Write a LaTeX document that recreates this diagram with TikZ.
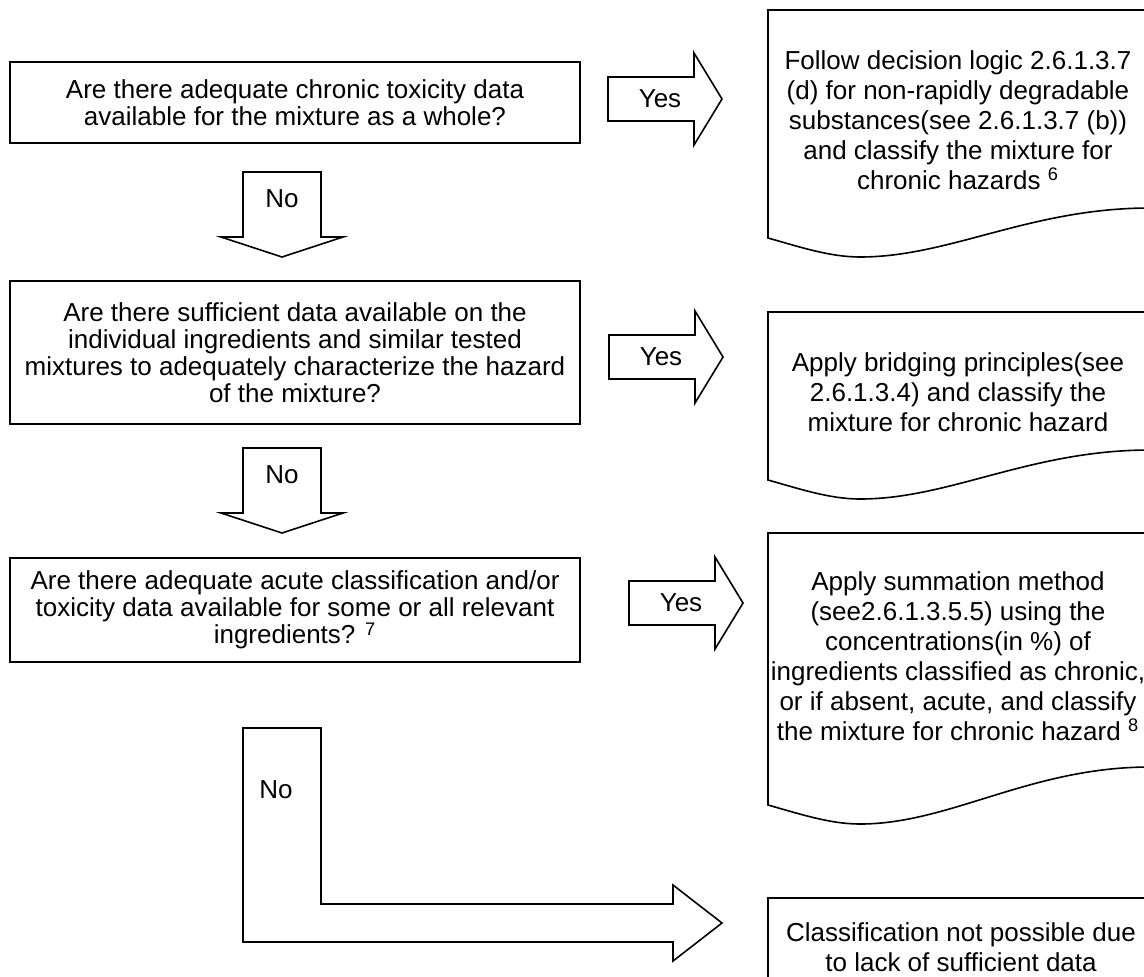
\documentclass[tikz,border=0pt]{standalone}
\usepackage{fontspec}
\setmainfont{Liberation Sans}
\usetikzlibrary{positioning}
\tikzset{
    question/.style={draw, line width=0.8pt, minimum width=285pt, inner sep=0pt,
                     align=center, font=\fontsize{13}{13.5}\selectfont},
    result/.style={inner sep=0pt, align=center, font=\fontsize{13}{15}\selectfont},
    shapeline/.style={draw, line width=0.8pt, fill=white},
    arrowtext/.style={inner sep=0pt, font=\fontsize{13}{15}\selectfont}
}

\begin{document}
\begin{tikzpicture}[x=0.5pt, y=-0.5pt]
    \useasboundingbox (0,0) rectangle (1144,976);
    \clip (0,0) rectangle (1144,976);

    % Questions
    \node[question, minimum height=40.5pt] (q1) at (295,102.5)
        {Are there adequate chronic toxicity data\\available for the mixture as a whole?};
    \node[question, minimum height=71.5pt] (q2) at (295,352.5)
        {Are there sufficient data available on the\\individual ingredients and similar tested\\mixtures to adequately characterize the hazard\\of the mixture?};
    \node[question, minimum height=52pt] (q3) at (295,610)
        {Are there adequate acute classification and/or\\toxicity data available for some or all relevant\\ingredients? \textsuperscript{7}};

    % Result documents (wavy bottom)
    \foreach \top/\low/\rise in {10/238/30, 312/480/30, 533/805/38}
        \draw[shapeline] (768,\top) -- (1150,\top) -- (1150,\low-\rise)
            .. controls (1030,\low-\rise) and (950,\low+19) .. (860,\low+19)
            .. controls (830,\low+19) and (800,\low+9) .. (768,\low) -- cycle;
    \draw[shapeline] (768,898) rectangle (1150,1000);

    \node[result] (r1) at (958,120)
        {Follow decision logic 2.6.1.3.7\\(d) for non-rapidly degradable\\substances(see 2.6.1.3.7 (b))\\and classify the mixture for\\chronic hazards \textsuperscript{6}};
    \node[result] (r2) at (958,392)
        {Apply bridging principles(see\\2.6.1.3.4) and classify the\\mixture for chronic hazard};
    \node[result] (r3) at (958,656)
        {Apply summation method\\(see2.6.1.3.5.5) using the\\concentrations(in \%) of\\ingredients classified as chronic,\\or if absent, acute, and classify\\the mixture for chronic hazard \textsuperscript{8}};
    \node[result] (r4) at (961,947)
        {Classification not possible due\\to lack of sufficient data};

    % Yes arrows
    \foreach \name/\x/\y in {yes1/608/99, yes2/609/357, yes3/629/603} {
        \draw[shapeline] (\x,\y) ++(0,-22) -- ++(86,0) -- ++(0,-24) -- ++(28,46)
            -- ++(-28,46) -- ++(0,-24) -- ++(-86,0) -- cycle;
        \node[arrowtext] (\name) at (\x+52,\y) {Yes};
    }

    % No arrows
    \foreach \name/\x/\y in {no1/282/172, no2/282/448} {
        \draw[shapeline] (\x,\y) ++(-39,0) -- ++(78,0) -- ++(0,65) -- ++(22,0)
            -- ++(-61,20) -- ++(-61,-20) -- ++(22,0) -- cycle;
        \node[arrowtext] (\name) at (\x,\y+27) {No};
    }
    \draw[shapeline] (243,728) -- (321,728) -- (321,904) -- (673,904) -- (673,885)
        -- (722,923) -- (673,961) -- (673,942) -- (243,942) -- cycle;
    \node[arrowtext] (no3) at (276,790) {No};
\end{tikzpicture}
\end{document}
